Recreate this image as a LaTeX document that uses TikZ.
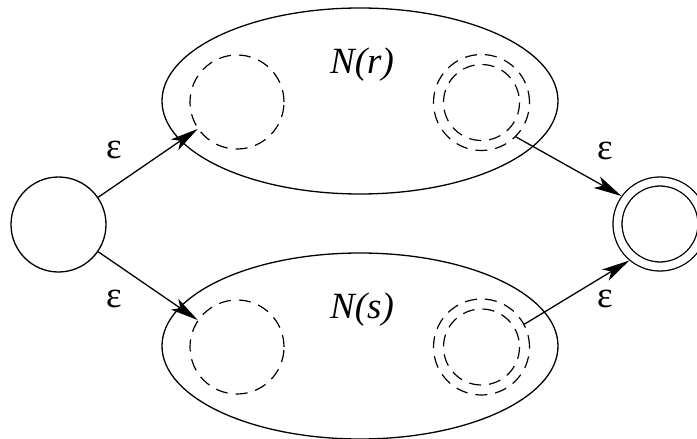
\documentclass[tikz,border=0pt]{standalone}
\usepackage{fontspec}
\setmainfont{Liberation Serif}
\newfontfamily\timesfont{Liberation Serif}
\usepackage{tikz}
\usetikzlibrary{positioning, arrows.meta, shapes.geometric}

\begin{document}
\begin{tikzpicture}[
  x=1pt, y=-1pt,
  font=\timesfont\fontsize{37}{40}\selectfont,
  line width=1.3pt,
  >={Stealth[length=28pt, width=13pt, inset=7pt]},
  state/.style={circle, draw, minimum size=95pt, inner sep=0pt},
  accept/.style={state, double, double distance=7.7pt, minimum size=85pt, outer sep=5.2pt},
  sub/.style={circle, draw, line width=1.2pt, dash pattern=on 12pt off 8pt, minimum size=94pt, inner sep=0pt},
  subacc/.style={sub, minimum size=96pt},
  nfa/.style={ellipse, draw, minimum width=396pt, minimum height=186pt, inner sep=0pt},
  lbl/.style={inner sep=0pt}
]
\useasboundingbox (0,0) rectangle (697,439);

% the two sub-automata
\node[nfa] (Nr) at (360,101) {};
\node[nfa] (Ns) at (360,346) {};
\node[lbl] (Nrl) at (362,65)  {\itshape N(r)};
\node[lbl] (Nsl) at (362,310) {\itshape N(s)};

\node[sub]    (r0) at (237,102) {};
\node[subacc] (rf) at (481.5,102.5) {};
\draw[sub] (rf.center) circle[radius=38];
\node[sub]    (s0) at (237,347) {};
\node[subacc] (sf) at (481.5,347) {};
\draw[sub] (sf.center) circle[radius=38];

% new start and final states
\node[state]  (q0) at (58.5,224.5) {};
\node[accept] (f)  at (660,224) {};

\draw[->] (q0) -- (r0);
\draw[->] (q0) -- (s0);
\draw[->] (rf.-45) -- (f.144);
\draw[->] (sf.28) -- (f.230);

% epsilon labels
\node[lbl] (e1) at (114,150) {ε};
\node[lbl] (e2) at (114,299) {ε};
\node[lbl] (e3) at (605,151) {ε};
\node[lbl] (e4) at (605,299) {ε};
\end{tikzpicture}
\end{document}
